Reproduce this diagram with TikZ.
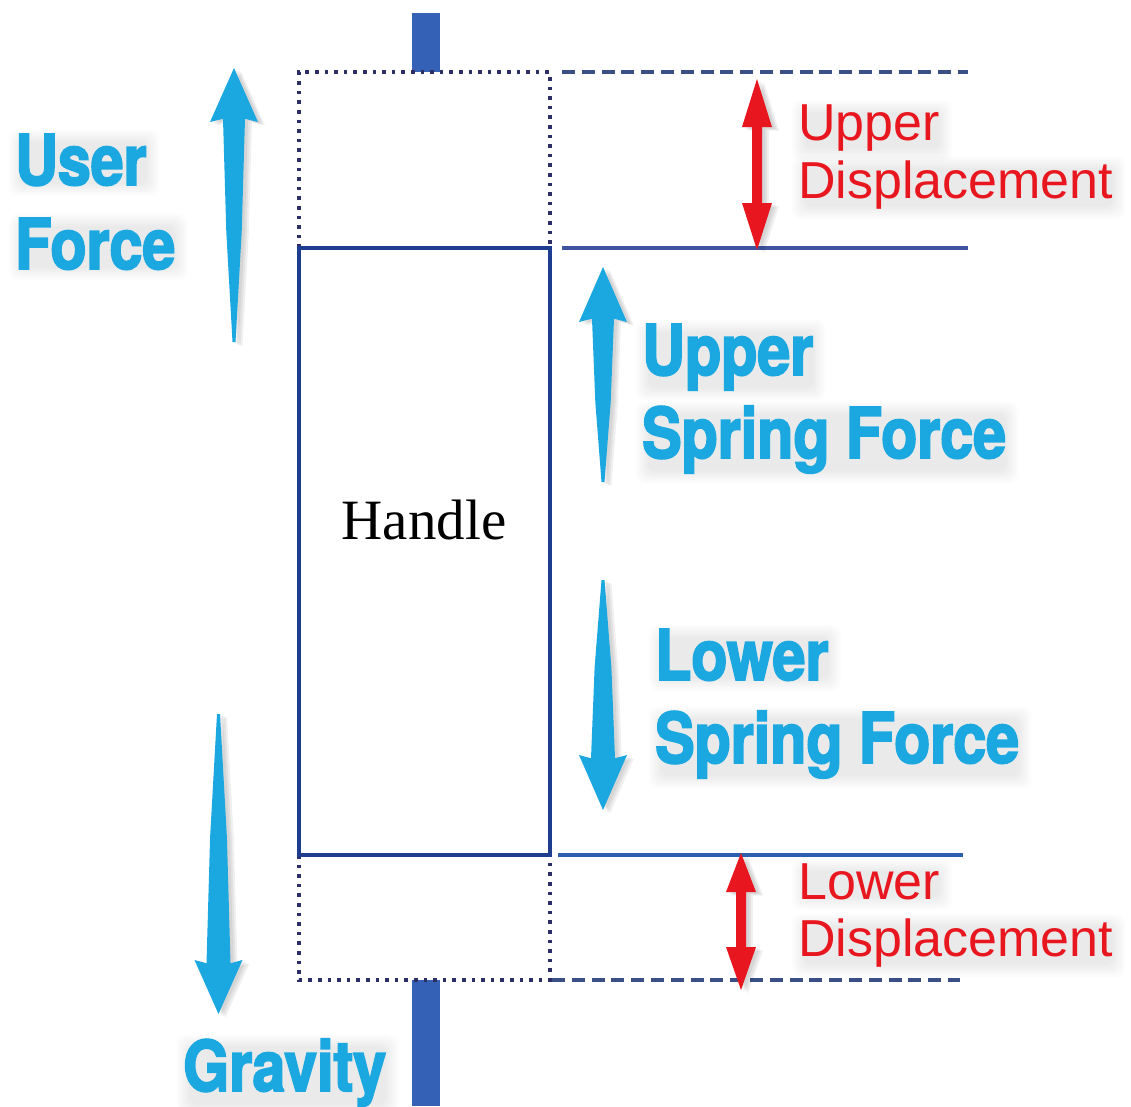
\documentclass[tikz,border=0pt]{standalone}
\usepackage{fontspec}
\setmainfont{Liberation Serif}
\newfontfamily\heavyfont[FakeStretch=0.845,FakeBold=2.6]{TeX Gyre Heros Bold}
\newfontfamily\redfont{Liberation Sans}
\definecolor{skyarrow}{HTML}{1BA7E0}
\definecolor{redarrow}{HTML}{E8161F}
\definecolor{navy}{HTML}{1F3D8F}
\definecolor{dotnavy}{HTML}{2B2F66}
\definecolor{barblue}{HTML}{3461B5}
\definecolor{dashblue}{HTML}{3A4F86}
\definecolor{lineupper}{HTML}{3F55A0}
\definecolor{linelower}{HTML}{2D5FB0}
\pgfdeclarelayer{halo}
\pgfsetlayers{halo,main}
\tikzset{
  heavylabel/.style={anchor=base west,inner sep=0pt,text=skyarrow,font=\heavyfont\fontsize{70}{70}\selectfont},
  redlabel/.style={anchor=base west,inner sep=0pt,text=redarrow,font=\redfont\fontsize{52}{52}\selectfont},
  halofill/.style={fill=black,opacity=0.012,draw=none,rounded corners=9pt},
  skyfill/.style={fill=skyarrow,draw=none},
  redfill/.style={fill=redarrow,draw=none},
  shadefill/.style={fill=black,opacity=0.06,draw=none},
  dotline/.style={draw=dotnavy,line width=3.6pt,dash pattern=on 3.6pt off 6pt},
  dashline/.style={draw=dashblue,line width=3.2pt,dash pattern=on 13pt off 6.8pt},
  solidline/.style={draw=#1,line width=3.6pt},
  barshape/.style={fill=barblue,draw=none}
}
% a label with a soft shaded patch behind it
\newcommand{\softlabel}[4]{%
  \node[#3] (#1) at (#2) {#4};
  \begin{pgfonlayer}{halo}
    \foreach \g in {9,7,5,3,1,-1,-3}{
      \fill[halofill] ([xshift=3pt-\g pt,yshift=-1pt-\g pt]#1.south west) rectangle ([xshift=3pt+\g pt,yshift=-5pt+\g pt]#1.north east);
    }
  \end{pgfonlayer}
}
% blue arrow: x, tip y, head base y, tail y, head half width, neck half width
\newcommand{\taperarrow}[6]{%
  \foreach \dx in {3,5,7}{
    \fill[shadefill,shift={(\dx,\dx/2)}] (#1,#2) -- (#1+#5,#3) -- (#1+#6,{#3-0.06*(#3-#2)}) -- (#1+0.7*#6,{#3+0.5*(#4-#3)}) -- (#1+1.5,#4) -- (#1-1.5,#4) -- (#1-0.7*#6,{#3+0.5*(#4-#3)}) -- (#1-#6,{#3-0.06*(#3-#2)}) -- (#1-#5,#3) -- cycle;
  }
  \fill[skyfill] (#1,#2) -- (#1+#5,#3) -- (#1+#6,{#3-0.06*(#3-#2)}) -- (#1+0.7*#6,{#3+0.5*(#4-#3)}) -- (#1+1.5,#4) -- (#1-1.5,#4) -- (#1-0.7*#6,{#3+0.5*(#4-#3)}) -- (#1-#6,{#3-0.06*(#3-#2)}) -- (#1-#5,#3) -- cycle;
}
% double headed red arrow: x, top tip, top base, bottom base, bottom tip
\newcommand{\redtwin}[5]{%
  \foreach \dx in {3,5,7}{
    \fill[shadefill,shift={(\dx,\dx/2)}] (#1,#2) -- (#1+15,#3) -- (#1+5,#3) -- (#1+5,#4) -- (#1+15,#4) -- (#1,#5) -- (#1-15,#4) -- (#1-5,#4) -- (#1-5,#3) -- (#1-15,#3) -- cycle;
  }
  \fill[redfill] (#1,#2) -- (#1+15,#3) -- (#1+5,#3) -- (#1+5,#4) -- (#1+15,#4) -- (#1,#5) -- (#1-15,#4) -- (#1-5,#4) -- (#1-5,#3) -- (#1-15,#3) -- cycle;
}
\begin{document}
\begin{tikzpicture}[x=1pt,y=-1pt]
\useasboundingbox (0,0) rectangle (1131,1106);
% bars
\fill[barshape] (412,13) rectangle (440,72);
\fill[barshape] (412,980) rectangle (440,1106);
% dotted handle travel limits
\draw[dotline] (299,248) -- (299,72) -- (550,72) -- (550,248);
\draw[dotline] (299,855) -- (299,980) -- (550,980) -- (550,855);
% handle
\node[draw=none,inner sep=0pt,anchor=base,font=\fontsize{57}{57}\selectfont] (handle) at (424,539) {Handle};
\draw[solidline=navy] (299,248) rectangle (550,855);
% level lines
\draw[dashline] (562,72) -- (968,72);
\draw[solidline=lineupper] (562,248) -- (968,248);
\draw[solidline=linelower] (558,855) -- (963,855);
\draw[dashline] (552,980) -- (960,980);
% blue arrows
\taperarrow{234}{68}{122}{342}{24}{11}
\taperarrow{218.5}{1014}{960}{714}{24}{12}
\taperarrow{603}{267}{322}{482}{24}{11}
\taperarrow{603}{810}{755}{580}{24}{12}
% red arrows
\redtwin{757}{79}{127}{203}{250}
\redtwin{741}{853}{892}{947}{990}
% labels
\softlabel{userl}{15,185}{heavylabel}{User}
\softlabel{forcel}{15,269}{heavylabel}{Force}
\softlabel{upperl}{642,375}{heavylabel}{Upper}
\softlabel{uspringl}{642,458}{heavylabel}{Spring Force}
\softlabel{lowerl}{655,680}{heavylabel}{Lower}
\softlabel{lspringl}{655,763}{heavylabel}{Spring Force}
\softlabel{gravl}{183,1091}{heavylabel}{Gravity}
\softlabel{udisa}{798,140}{redlabel}{Upper}
\softlabel{udisb}{798,198}{redlabel}{Displacement}
\softlabel{ldisa}{798,899}{redlabel}{Lower}
\softlabel{ldisb}{798,956}{redlabel}{Displacement}
\end{tikzpicture}
\end{document}
